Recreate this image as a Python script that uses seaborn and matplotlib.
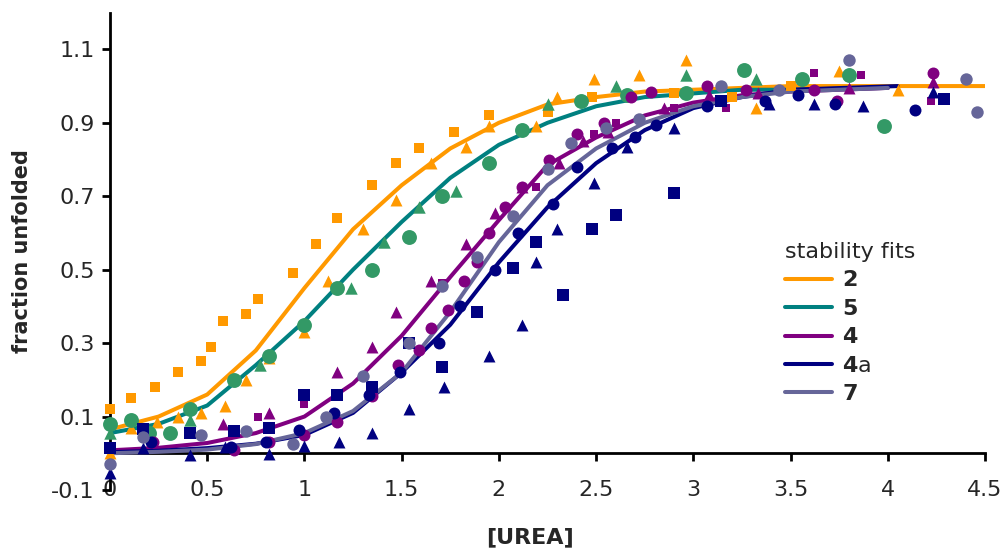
import matplotlib
matplotlib.use("Agg")
import matplotlib.pyplot as plt
import seaborn as sns
import pandas as pd

# ---------------------------------------------------------
# puntos medidos (x = [UREA], y = fraction unfolded)
# ---------------------------------------------------------
c2_sq_x = [0, 0.11, 0.23, 0.35, 0.47, 0.52, 0.58, 0.70, 0.76, 0.94, 1.06, 1.17, 1.35, 1.47, 1.59, 1.77, 1.95, 2.25, 2.48, 2.90, 3.20, 3.50]
c2_sq_y = [0.12, 0.15, 0.18, 0.22, 0.25, 0.29, 0.36, 0.38, 0.42, 0.49, 0.57, 0.64, 0.73, 0.79, 0.83, 0.875, 0.92, 0.93, 0.97, 0.98, 0.97, 1.0]
c2_tr_x = [0, 0.11, 0.24, 0.35, 0.47, 0.59, 0.70, 0.82, 1.0, 1.12, 1.30, 1.47, 1.65, 1.83, 1.95, 2.19, 2.30, 2.49, 2.72, 2.96, 3.32, 3.75, 4.05]
c2_tr_y = [0.0, 0.07, 0.085, 0.10, 0.11, 0.13, 0.20, 0.26, 0.33, 0.47, 0.61, 0.69, 0.79, 0.835, 0.89, 0.89, 0.97, 1.02, 1.03, 1.07, 0.94, 1.04, 0.99]

c5_ci_x = [0, 0.11, 0.20, 0.31, 0.41, 0.64, 0.82, 1.0, 1.17, 1.35, 1.54, 1.71, 1.95, 2.12, 2.42, 2.66, 2.96, 3.26, 3.56, 3.80, 3.98]
c5_ci_y = [0.08, 0.09, 0.055, 0.055, 0.12, 0.20, 0.265, 0.35, 0.45, 0.50, 0.59, 0.70, 0.79, 0.88, 0.96, 0.975, 0.98, 1.045, 1.02, 1.03, 0.89]
c5_tr_x = [0, 0.41, 0.77, 1.24, 1.41, 1.59, 1.78, 2.25, 2.60, 2.96, 3.32]
c5_tr_y = [0.055, 0.09, 0.24, 0.45, 0.575, 0.67, 0.715, 0.95, 1.0, 1.03, 1.02]

c4_ci_x = [0.22, 0.64, 0.82, 1.0, 1.17, 1.35, 1.48, 1.59, 1.65, 1.74, 1.82, 1.89, 1.95, 2.03, 2.12, 2.26, 2.40, 2.54, 2.68, 2.78, 3.07, 3.27, 3.62, 3.74, 4.23]
c4_ci_y = [0.03, 0.01, 0.03, 0.05, 0.085, 0.155, 0.24, 0.28, 0.34, 0.39, 0.47, 0.52, 0.60, 0.67, 0.725, 0.80, 0.87, 0.90, 0.97, 0.985, 1.0, 0.99, 0.99, 0.96, 1.035]
c4_tr_x = [0.58, 0.82, 1.17, 1.35, 1.47, 1.65, 1.83, 1.98, 2.12, 2.31, 2.43, 2.56, 2.85, 3.08, 3.33, 3.80, 4.23]
c4_tr_y = [0.08, 0.11, 0.22, 0.29, 0.385, 0.47, 0.57, 0.655, 0.725, 0.79, 0.85, 0.875, 0.94, 0.975, 0.98, 0.995, 1.01]
c4_sq_x = [0.76, 1.0, 1.71, 2.19, 2.49, 2.60, 2.90, 3.17, 3.62, 3.86, 4.22]
c4_sq_y = [0.10, 0.135, 0.465, 0.725, 0.87, 0.90, 0.94, 0.94, 1.035, 1.03, 0.96]

c4a_ci_x = [0.21, 0.62, 0.80, 0.97, 1.15, 1.33, 1.49, 1.69, 1.80, 1.98, 2.10, 2.28, 2.40, 2.58, 2.70, 2.81, 3.07, 3.37, 3.54, 3.73, 4.14]
c4a_ci_y = [0.03, 0.016, 0.03, 0.063, 0.11, 0.16, 0.22, 0.30, 0.40, 0.50, 0.60, 0.68, 0.78, 0.83, 0.86, 0.895, 0.945, 0.96, 0.975, 0.95, 0.935]
c4a_sq_x = [0, 0.17, 0.41, 0.64, 0.82, 1.0, 1.17, 1.35, 1.54, 1.71, 1.89, 2.07, 2.19, 2.33, 2.48, 2.60, 2.90, 3.14, 4.29]
c4a_sq_y = [0.015, 0.065, 0.055, 0.06, 0.07, 0.16, 0.16, 0.18, 0.30, 0.235, 0.385, 0.505, 0.575, 0.43, 0.61, 0.65, 0.71, 0.96, 0.965]
c4a_tr_x = [0, 0.17, 0.41, 0.59, 0.82, 1.0, 1.18, 1.35, 1.54, 1.72, 1.95, 2.12, 2.19, 2.30, 2.49, 2.66, 2.90, 3.39, 3.62, 3.87, 4.23]
c4a_tr_y = [-0.055, 0.014, -0.005, 0.016, -0.003, 0.02, 0.03, 0.055, 0.12, 0.18, 0.265, 0.35, 0.52, 0.61, 0.735, 0.835, 0.885, 0.95, 0.95, 0.945, 0.985]

c7_ci_x = [0, 0.17, 0.47, 0.70, 0.94, 1.11, 1.30, 1.54, 1.71, 1.89, 2.07, 2.25, 2.37, 2.55, 2.72, 3.14, 3.44, 3.80, 4.40, 4.46]
c7_ci_y = [-0.03, 0.045, 0.05, 0.06, 0.025, 0.10, 0.21, 0.30, 0.455, 0.535, 0.645, 0.775, 0.845, 0.885, 0.91, 1.0, 0.99, 1.07, 1.02, 0.93]

# curvas de ajuste
fit2_x = [0, 0.25, 0.5, 0.75, 1.0, 1.25, 1.5, 1.75, 2.0, 2.25, 2.5, 2.75, 3.0, 3.5, 4.0, 4.5]
fit2_y = [0.065, 0.10, 0.16, 0.28, 0.45, 0.61, 0.73, 0.83, 0.90, 0.95, 0.97, 0.985, 0.99, 1.0, 1.0, 1.0]
fit5_x = [0, 0.25, 0.5, 0.75, 1.0, 1.25, 1.5, 1.75, 2.0, 2.25, 2.5, 2.75, 3.0, 3.25, 3.5, 4.0]
fit5_y = [0.055, 0.08, 0.13, 0.24, 0.36, 0.50, 0.63, 0.75, 0.84, 0.90, 0.945, 0.97, 0.98, 0.99, 0.99, 0.995]
fit4_x = [0, 0.25, 0.5, 0.75, 1.0, 1.25, 1.5, 1.75, 2.0, 2.25, 2.5, 2.75, 3.0, 3.25, 3.5, 4.0]
fit4_y = [0.008, 0.015, 0.028, 0.055, 0.10, 0.19, 0.32, 0.48, 0.635, 0.785, 0.86, 0.92, 0.955, 0.975, 0.985, 0.995]
fit4a_x = [0, 0.25, 0.5, 0.75, 1.0, 1.25, 1.5, 1.75, 2.0, 2.25, 2.5, 2.75, 3.0, 3.25, 3.5, 4.05]
fit4a_y = [0.003, 0.007, 0.014, 0.026, 0.05, 0.11, 0.22, 0.35, 0.52, 0.67, 0.79, 0.88, 0.94, 0.97, 0.99, 1.0]
fit7_x = [0, 0.25, 0.5, 0.75, 1.0, 1.25, 1.5, 1.75, 2.0, 2.25, 2.5, 2.75, 3.0, 3.25, 3.5, 4.0]
fit7_y = [0.0, 0.004, 0.01, 0.025, 0.055, 0.115, 0.22, 0.385, 0.575, 0.73, 0.83, 0.90, 0.945, 0.97, 0.985, 0.995]

fit_labels = [r"$\mathbf{2}$", r"$\mathbf{5}$", r"$\mathbf{4}$", r"$\mathbf{4}$a", r"$\mathbf{7}$"]

ORANGE = "#FF9900"
TEAL = "#008080"
GREEN = "#339966"
PURPLE = "#800080"
NAVY = "#000080"
GREY = "#666699"

sns.set_theme(style="white")
plt.rcParams["font.family"] = ["DejaVu Sans"]

fig = plt.figure(figsize=(10.07, 5.56), dpi=100)
ax = fig.add_axes([0.1092, 0.1187, 0.869, 0.8586])

# (x, y, color, marker, size)
puntos = [
    (c2_sq_x, c2_sq_y, ORANGE, "s", 62),
    (c2_tr_x, c2_tr_y, ORANGE, "^", 74),
    (c5_ci_x, c5_ci_y, GREEN, "o", 115),
    (c5_tr_x, c5_tr_y, GREEN, "^", 80),
    (c4_ci_x, c4_ci_y, PURPLE, "o", 74),
    (c4_tr_x, c4_tr_y, PURPLE, "^", 74),
    (c4_sq_x, c4_sq_y, PURPLE, "s", 32),
    (c4a_ci_x, c4a_ci_y, NAVY, "o", 74),
    (c4a_sq_x, c4a_sq_y, NAVY, "s", 66),
    (c4a_tr_x, c4a_tr_y, NAVY, "^", 74),
    (c7_ci_x, c7_ci_y, GREY, "o", 80),
]

ajustes = [
    (fit2_x, fit2_y, ORANGE),
    (fit5_x, fit5_y, TEAL),
    (fit4_x, fit4_y, PURPLE),
    (fit4a_x, fit4a_y, NAVY),
    (fit7_x, fit7_y, GREY),
]

for (fx, fy, col), lab in zip(ajustes, fit_labels):
    df_fit = pd.DataFrame({"x": fx, "y": fy})
    sns.lineplot(data=df_fit, x="x", y="y", color=col, linewidth=2.9,
                 label=lab, ax=ax, zorder=2, sort=True, estimator=None)

for px, py, col, mk, sz in puntos:
    df_p = pd.DataFrame({"x": px, "y": py})
    sns.scatterplot(data=df_p, x="x", y="y", color=col, marker=mk, s=sz,
                    linewidth=0, ax=ax, zorder=3, legend=False, clip_on=False)

ax.set_xlim(0, 4.5)
ax.set_ylim(-0.1, 1.2)
ax.set_xticks([0, 0.5, 1, 1.5, 2, 2.5, 3, 3.5, 4, 4.5])
ax.set_xticklabels(["0", "0.5", "1", "1.5", "2", "2.5", "3", "3.5", "4", "4.5"])
ax.set_yticks([-0.1, 0.1, 0.3, 0.5, 0.7, 0.9, 1.1])
ax.set_yticklabels(["-0.1", "0.1", "0.3", "0.5", "0.7", "0.9", "1.1"])

for s in ["top", "right"]:
    ax.spines[s].set_visible(False)
ax.spines["bottom"].set_position(("data", 0))
for s in ["left", "bottom"]:
    ax.spines[s].set_color("black")
    ax.spines[s].set_linewidth(2.0)
    ax.spines[s].set_zorder(1)

ax.tick_params(axis="x", direction="out", length=6, width=2, color="black",
               labelsize=16, pad=13, bottom=True)
ax.tick_params(axis="y", direction="out", length=6, width=2, color="black",
               labelsize=16, pad=5, left=True)

ax.set_xlabel("[UREA]", fontsize=16, fontweight="bold")
ax.set_ylabel("fraction unfolded", fontsize=15, fontweight="bold")
ax.xaxis.set_label_coords(0.48, -0.078)
ax.yaxis.set_label_coords(-0.089, 0.5)

handles, labels = ax.get_legend_handles_labels()
leg = ax.legend(handles, labels, title="stability fits", loc="upper left",
                bbox_to_anchor=(785 / 1007, 1 - 242 / 556),
                bbox_transform=fig.transFigure, frameon=False,
                fontsize=16, title_fontsize=16, handlelength=2.1,
                handletextpad=0.45, labelspacing=0.38, borderpad=0,
                borderaxespad=0, alignment="left")
for ln in leg.get_lines():
    ln.set_linewidth(2.9)

fig.savefig("out.png", dpi=100)
plt.close(fig)
